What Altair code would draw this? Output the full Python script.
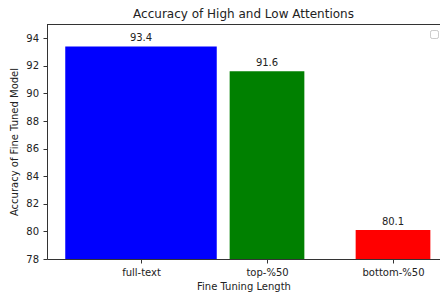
import altair as alt
import pandas as pd

categories = ["full-text", "top-%50", "bottom-%50"]
accuracy = [93.4, 91.6, 80.1]
bar_colors = ["#0000ff", "#008000", "#ff0000"]
y_ticks = [78, 80, 82, 84, 86, 88, 90, 92, 94]

df = pd.DataFrame({"length": categories, "acc": accuracy, "color": bar_colors})

FONT = "DejaVu Sans"
INK = "#222222"
W, H = 393, 235

x = alt.X("length:N", sort=categories, title="Fine Tuning Length",
          scale=alt.Scale(type="point", padding=0.5595, align=0.6667),
          axis=alt.Axis(labelAngle=0, titlePadding=4))
y = alt.Y("acc:Q", title="Accuracy of Fine Tuned Model",
          scale=alt.Scale(domain=[78, 95.03], nice=False, zero=False),
          axis=alt.Axis(values=y_ticks, grid=False, titlePadding=6.5))

bars = alt.Chart(df).mark_bar(clip=True).encode(
    x=x, y=y,
    color=alt.Color("color:N", scale=None, legend=None),
    size=alt.condition("datum.length == 'full-text'", alt.value(151.5), alt.value(74.7)),
)

labels = alt.Chart(df).mark_text(dy=-3, baseline="bottom", fontSize=10, color=INK, font=FONT).encode(
    x=x, y=y, text=alt.Text("acc:Q", format=".1f"))

spine = alt.Chart(df).mark_rule(color="#333333", strokeWidth=1).encode(
    x=alt.value(0), x2=alt.value(W), y=alt.value(0.5))

legend_box = alt.Chart(df).mark_rect(fill="white", stroke="#cccccc", strokeWidth=1, cornerRadius=2).encode(
    x=alt.value(383.5), x2=alt.value(391.5), y=alt.value(6.5), y2=alt.value(14.5))

chart = alt.layer(bars, labels, spine, legend_box).properties(
    width=W, height=H,
    title=alt.TitleParams("Accuracy of High and Low Attentions", fontSize=12, font=FONT,
                          fontWeight="normal", color=INK, offset=3, anchor="middle"),
    autosize=alt.AutoSizeParams(type="none"),
    padding={"left": 39, "top": 16, "right": 0, "bottom": 35},
).configure_view(stroke=None).configure_axis(
    labelFont=FONT, labelFontSize=10, labelColor=INK,
    titleFont=FONT, titleFontSize=10, titleColor=INK, titleFontWeight="normal",
    domainColor="#333333", tickColor="#333333", tickSize=4, labelPadding=4.5,
)

chart.save("out.html", embed_options={"renderer": "svg", "actions": False})
